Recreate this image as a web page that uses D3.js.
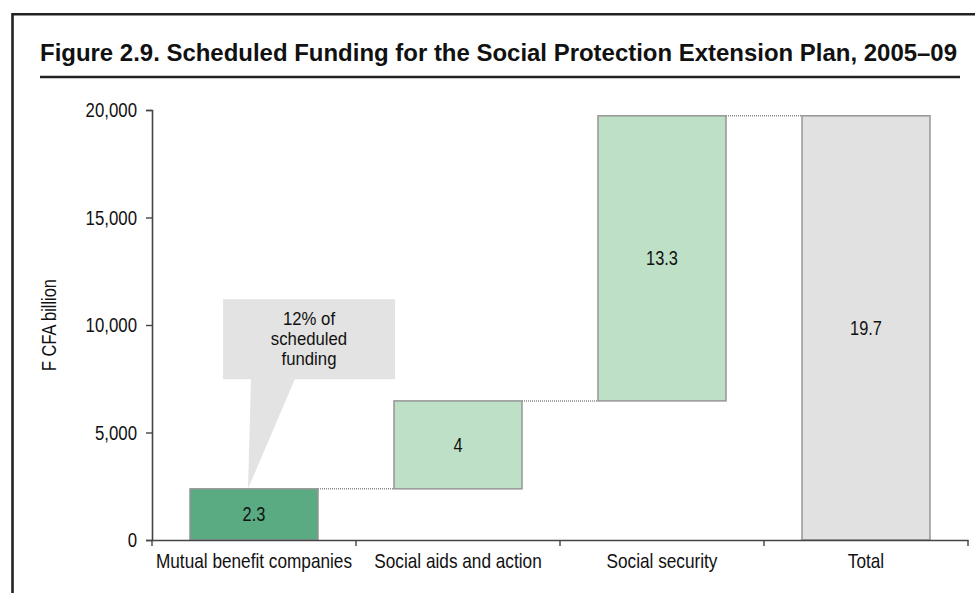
<!DOCTYPE html>
<html>
<head>
<meta charset="utf-8">
<script src="https://cdn.jsdelivr.net/npm/d3@7"></script>
<style>
  html, body { margin: 0; padding: 0; background: #fff; }
  svg { display: block; }
  text { font-family: "Liberation Sans", Arial, sans-serif; fill: #111; }
</style>
</head>
<body>
<svg id="chart" width="975" height="593"></svg>
<script>
const title = "Figure 2.9. Scheduled Funding for the Social Protection Extension Plan, 2005\u201309";
const categories = ["Mutual benefit companies", "Social aids and action", "Social security", "Total"];
const stepValues = [2380, 4090, 13260];
const totalValue = 19730;
const barLabels = ["2.3", "4", "13.3", "19.7"];
const yTicks = [0, 5000, 10000, 15000, 20000];
const yLabel = "F CFA billion";
const calloutLines = ["12% of", "scheduled", "funding"];

// build waterfall table
const rows = [];
let cum = 0;
stepValues.forEach((v, i) => {
  rows.push({cat: categories[i], y0: cum, y1: cum + v, label: barLabels[i], kind: i === 0 ? "first" : "step"});
  cum += v;
});
rows.push({cat: categories[3], y0: 0, y1: totalValue, label: barLabels[3], kind: "total"});

const fills = {first: "#5aab82", step: "#bde0c6", total: "#e1e1e1"};

// condensed look (Arial Narrow-like) via horizontal scaling
function narrow(sel, f) {
  sel.each(function () {
    const t = d3.select(this);
    const xx = +t.attr("x") || 0, yy = +t.attr("y") || 0;
    const tr = t.attr("transform") || "";
    t.attr("x", 0).attr("y", 0)
      .attr("transform", `${tr} translate(${xx},${yy}) scale(${f},1)`);
  });
}

const svg = d3.select("#chart");

// frame
svg.append("path")
  .attr("d", "M12.5,600 L12.5,14.3 L990,14.3")
  .attr("fill", "none").attr("stroke", "#222").attr("stroke-width", 2.6);

// title
svg.append("text")
  .attr("x", 40).attr("y", 61)
  .attr("textLength", 917).attr("lengthAdjust", "spacingAndGlyphs")
  .style("font-weight", "bold").style("font-size", "24px")
  .text(title);
svg.append("line")
  .attr("x1", 40).attr("x2", 960).attr("y1", 77).attr("y2", 77)
  .attr("stroke", "#222").attr("stroke-width", 2.6);

const x = d3.scaleBand().domain(categories).range([152, 968]).paddingInner(0.3725).paddingOuter(0.3725 / 2);
const y = d3.scaleLinear().domain([0, 20000]).range([540, 110]);
const step = x.step();
const halfGap = step * x.paddingInner() / 2;
const bw = x.bandwidth();

// callout
const first = rows[0];
const bx0 = x(first.cat);
const boxL = bx0 + 33, boxR = bx0 + 205, boxT = y(11200), boxB = y(7480);
svg.append("rect")
  .attr("x", boxL).attr("y", boxT).attr("width", boxR - boxL).attr("height", boxB - boxT)
  .attr("fill", "#e3e3e3");
svg.append("path")
  .attr("d", `M${bx0 + 61},${boxB - 0.5} L${bx0 + 105},${boxB - 0.5} L${bx0 + 58},${y(first.y1)} Z`)
  .attr("fill", "#e3e3e3");
const cx = (boxL + boxR) / 2;
svg.append("g").selectAll("text").data(calloutLines).join("text")
  .attr("x", cx).attr("y", (d, i) => boxT + 26 + i * 20)
  .attr("text-anchor", "middle").style("font-size", "18px")
  .text(d => d)
  .call(narrow, 0.93);

// connectors
for (let i = 0; i < rows.length - 1; i++) {
  const top = rows[i].y1;
  svg.append("line")
    .attr("x1", x(rows[i].cat) + bw).attr("x2", x(rows[i + 1].cat))
    .attr("y1", y(top)).attr("y2", y(top))
    .attr("stroke", "#8a8a8a").attr("stroke-width", 1.5).attr("stroke-dasharray", "1,1");
}

// bars
svg.append("g").selectAll("rect").data(rows).join("rect")
  .attr("x", d => x(d.cat)).attr("width", bw)
  .attr("y", d => y(d.y1)).attr("height", d => y(d.y0) - y(d.y1))
  .attr("fill", d => fills[d.kind])
  .attr("stroke", "#969696").attr("stroke-width", 1.5);

svg.append("g").selectAll("text").data(rows).join("text")
  .attr("x", d => x(d.cat) + bw / 2)
  .attr("y", d => (y(d.y0) + y(d.y1)) / 2 + 7)
  .attr("text-anchor", "middle").style("font-size", "20px")
  .text(d => d.label)
  .call(narrow, 0.82);

// y axis
const yAxis = svg.append("g").attr("transform", "translate(152,0)")
  .call(d3.axisLeft(y).tickValues(yTicks).tickSize(6).tickPadding(9).tickFormat(d3.format(",")));
yAxis.attr("font-family", null).attr("font-size", null);
yAxis.select(".domain").attr("stroke", "#444").attr("stroke-width", 1.6);
yAxis.selectAll(".tick line").attr("stroke", "#444").attr("stroke-width", 1.4);
yAxis.selectAll(".tick text").style("font-size", "20.5px").attr("fill", "#111")
  .call(narrow, 0.82);

// x axis
const xAxis = svg.append("g").attr("transform", "translate(0,540)")
  .call(d3.axisBottom(x).tickSize(0).tickPadding(13).tickSizeOuter(0));
xAxis.attr("font-family", null).attr("font-size", null);
xAxis.select(".domain").attr("stroke", "#444").attr("stroke-width", 1.6);
xAxis.selectAll(".tick text").style("font-size", "21px").attr("fill", "#111")
  .call(narrow, 0.82);
const edges = categories.map(c => x(c) - halfGap).concat([x(categories[categories.length - 1]) + bw + halfGap]);
xAxis.append("g").selectAll("line").data(edges).join("line")
  .attr("x1", d => d).attr("x2", d => d).attr("y1", 0).attr("y2", 6)
  .attr("stroke", "#444").attr("stroke-width", 1.4);

// y label
svg.append("text")
  .attr("transform", `translate(56,${(y(0) + y(20000)) / 2}) rotate(-90)`)
  .attr("text-anchor", "middle").style("font-size", "20px")
  .text(yLabel)
  .call(narrow, 0.82);
</script>
</body>
</html>
